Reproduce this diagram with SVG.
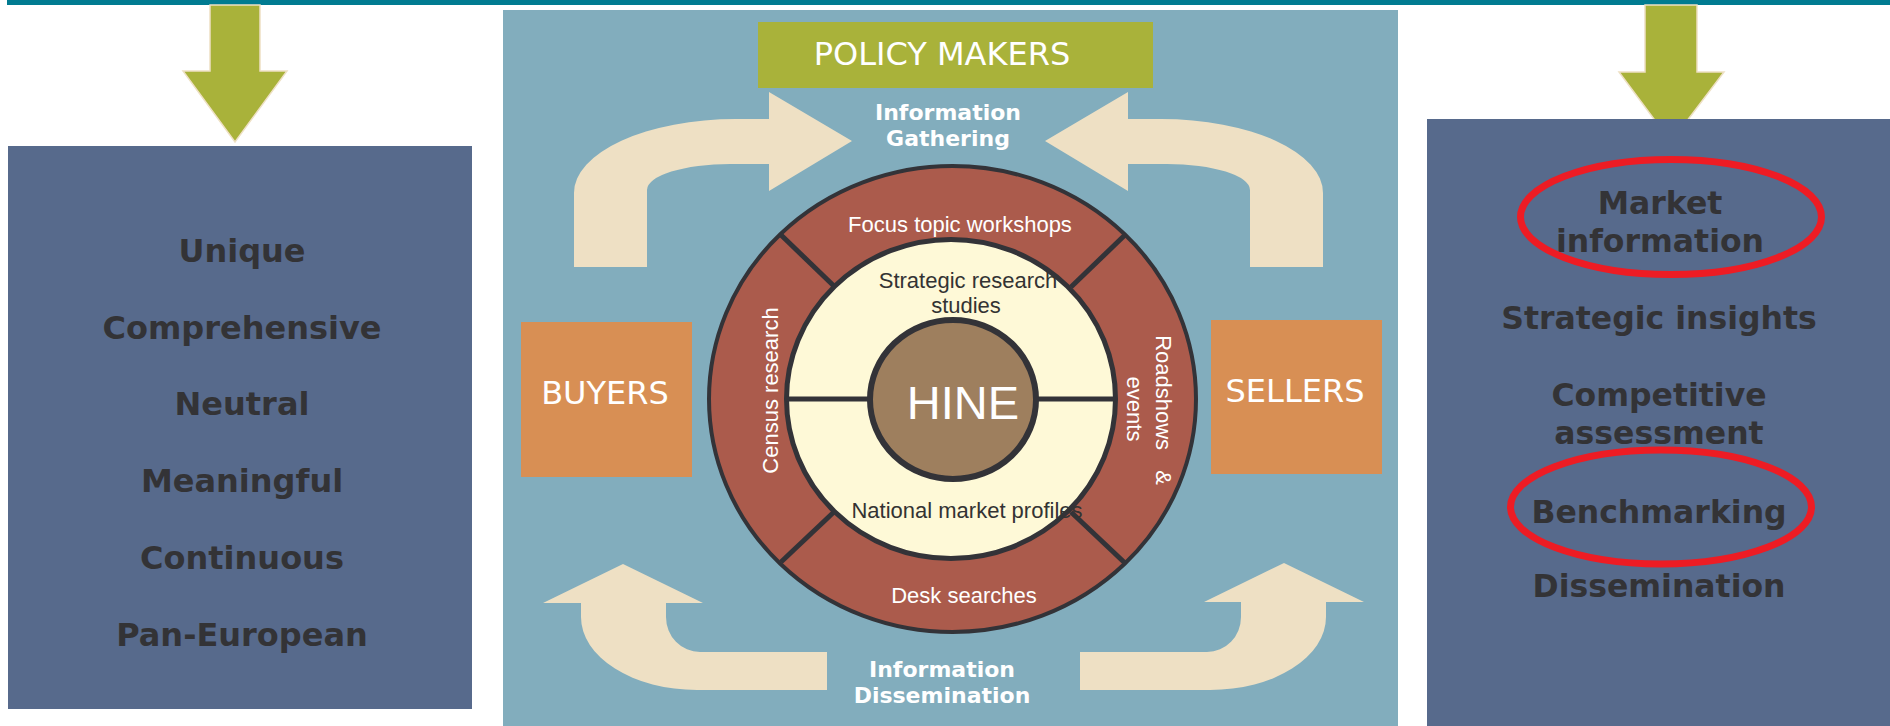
<svg xmlns="http://www.w3.org/2000/svg" width="1890" height="726" viewBox="0 0 1890 726">
<style>
.cap { font-family: "DejaVu Sans", Verdana, sans-serif; font-size: 32px; fill: #ffffff; text-anchor: middle; }
.info { font-family: "DejaVu Sans", Verdana, sans-serif; font-weight: bold; font-size: 22px; fill: #ffffff; text-anchor: middle; }
.list { font-family: "DejaVu Sans", Verdana, sans-serif; font-weight: bold; font-size: 32px; fill: #333336; text-anchor: middle; }
.rlist { font-family: "DejaVu Sans", Verdana, sans-serif; font-weight: bold; font-size: 31.5px; fill: #333336; text-anchor: middle; }
.ring { font-family: "Liberation Sans", Arial, sans-serif; font-size: 22px; text-anchor: middle; }
.w { fill: #ffffff; }
.d { fill: #333333; }
.beige { fill: #EEE0C4; }
.green { fill: #A9B23A; stroke: #EEE0C4; stroke-width: 1.5; }
.div { stroke: #333338; stroke-width: 5; fill: none; }
.hl { fill: none; stroke: #ED1C24; stroke-width: 7; }
</style>

<rect x="0" y="0" width="1890" height="726" fill="#ffffff"/>
<rect x="7" y="0" width="1883" height="5" fill="#017B91"/>

<!-- center panel background -->
<rect id="panel" x="503" y="10" width="895" height="716" fill="#82ADBD"/>

<g id="connectors">
  <!-- green arrows from top -->
  <path class="green" d="M210 5 L260 5 L260 71 L287 71 L235 142 L183 71 L210 71 Z"/>
  <path class="green" d="M1645 5 L1697 5 L1697 72 L1724 72 L1671 142 L1619 72 L1645 72 Z"/>
  <!-- upper beige arrows (information gathering) -->
  <path class="beige" d="M574 267 L574 193 A162 74 0 0 1 736 119 L769 119 L769 92 L852 141 L769 191 L769 164 L730 164 A83 26 0 0 0 647 190 L647 267 Z"/>
  <path class="beige" d="M1323 267 L1323 193 A162 74 0 0 0 1161 119 L1128 119 L1128 92 L1045 141 L1128 191 L1128 164 L1167 164 A83 26 0 0 1 1250 190 L1250 267 Z"/>
  <!-- lower beige arrows (information dissemination) -->
  <path class="beige" d="M827 652 L700 652 A34 35 0 0 1 666 617 L666 603 L703 603 L623 564 L543 603 L581 603 L581 617 A116 73 0 0 0 697 690 L827 690 Z"/>
  <path class="beige" d="M1080 652 L1207 652 A34 35 0 0 0 1241 617 L1241 602 L1204 602 L1284 563 L1364 602 L1326 602 L1326 617 A116 73 0 0 1 1210 690 L1080 690 Z"/>
</g>

<g id="left-panel">
  <rect x="8" y="146" width="464" height="563" fill="#576A8C"/>
  <text class="list" x="242" y="262">Unique</text>
  <text class="list" x="242" y="339">Comprehensive</text>
  <text class="list" x="242" y="415">Neutral</text>
  <text class="list" x="242" y="492">Meaningful</text>
  <text class="list" x="242" y="569">Continuous</text>
  <text class="list" x="242" y="646">Pan-European</text>
</g>

<g id="right-panel">
  <rect x="1427" y="119" width="463" height="607" fill="#576A8C"/>
  <text class="rlist" x="1660" y="214">Market</text>
  <text class="rlist" x="1660" y="252">information</text>
  <text class="rlist" x="1659" y="329">Strategic insights</text>
  <text class="rlist" x="1659" y="406">Competitive</text>
  <text class="rlist" x="1659" y="444">assessment</text>
  <text class="rlist" x="1659" y="523">Benchmarking</text>
  <text class="rlist" x="1659" y="597">Dissemination</text>
  <ellipse class="hl" cx="1671" cy="217" rx="150.5" ry="57.5"/>
  <ellipse class="hl" cx="1661" cy="507" rx="150.5" ry="57"/>
</g>

<g id="policy-makers">
  <rect x="758" y="22" width="395" height="66" fill="#A9B23A"/>
  <text class="cap" x="942" y="65">POLICY MAKERS</text>
</g>

<g id="info-gathering">
  <text class="info" x="948" y="120">Information</text>
  <text class="info" x="948" y="146">Gathering</text>
</g>

<g id="info-dissemination">
  <text class="info" x="942" y="677">Information</text>
  <text class="info" x="942" y="703">Dissemination</text>
</g>

<g id="buyers">
  <rect x="521" y="322" width="171" height="155" fill="#D88F54"/>
  <text class="cap" x="605" y="404">BUYERS</text>
</g>

<g id="sellers">
  <rect x="1211" y="320" width="171" height="154" fill="#D88F54"/>
  <text class="cap" x="1295" y="402">SELLERS</text>
</g>

<g id="hine-ring">
  <ellipse cx="952.5" cy="399" rx="243.5" ry="233" fill="#AB5B4C" stroke="#333338" stroke-width="4"/>
  <line class="div" x1="780" y1="234" x2="836" y2="288"/>
  <line class="div" x1="1126" y1="234" x2="1071" y2="287"/>
  <line class="div" x1="781" y1="562" x2="835" y2="511"/>
  <line class="div" x1="1126" y1="564" x2="1071" y2="512"/>
  <ellipse cx="951" cy="399" rx="164.5" ry="159.5" fill="#FEF9D7" stroke="#333338" stroke-width="5"/>
  <line class="div" x1="786" y1="399" x2="871" y2="399"/>
  <line class="div" x1="1035" y1="399" x2="1116" y2="399"/>
  <ellipse cx="953" cy="399.5" rx="83" ry="79.5" fill="#9E7F5E" stroke="#333338" stroke-width="6"/>
  <text x="963" y="419" font-family="Liberation Sans, Arial, sans-serif" font-size="47" fill="#ffffff" text-anchor="middle">HINE</text>
  <text class="ring w" x="960" y="232">Focus topic workshops</text>
  <text class="ring d" x="968" y="288">Strategic research</text>
  <text class="ring d" x="966" y="313">studies</text>
  <text class="ring d" x="967" y="518">National market profiles</text>
  <text class="ring w" x="964" y="603">Desk searches</text>
  <text class="ring w" transform="translate(778 390.5) rotate(-90)">Census research</text>
  <text class="ring w" transform="translate(1156 410) rotate(90)" style="word-spacing:14px">Roadshows &amp;</text>
  <text class="ring w" transform="translate(1127 409) rotate(90)">events</text>
</g>
</svg>
